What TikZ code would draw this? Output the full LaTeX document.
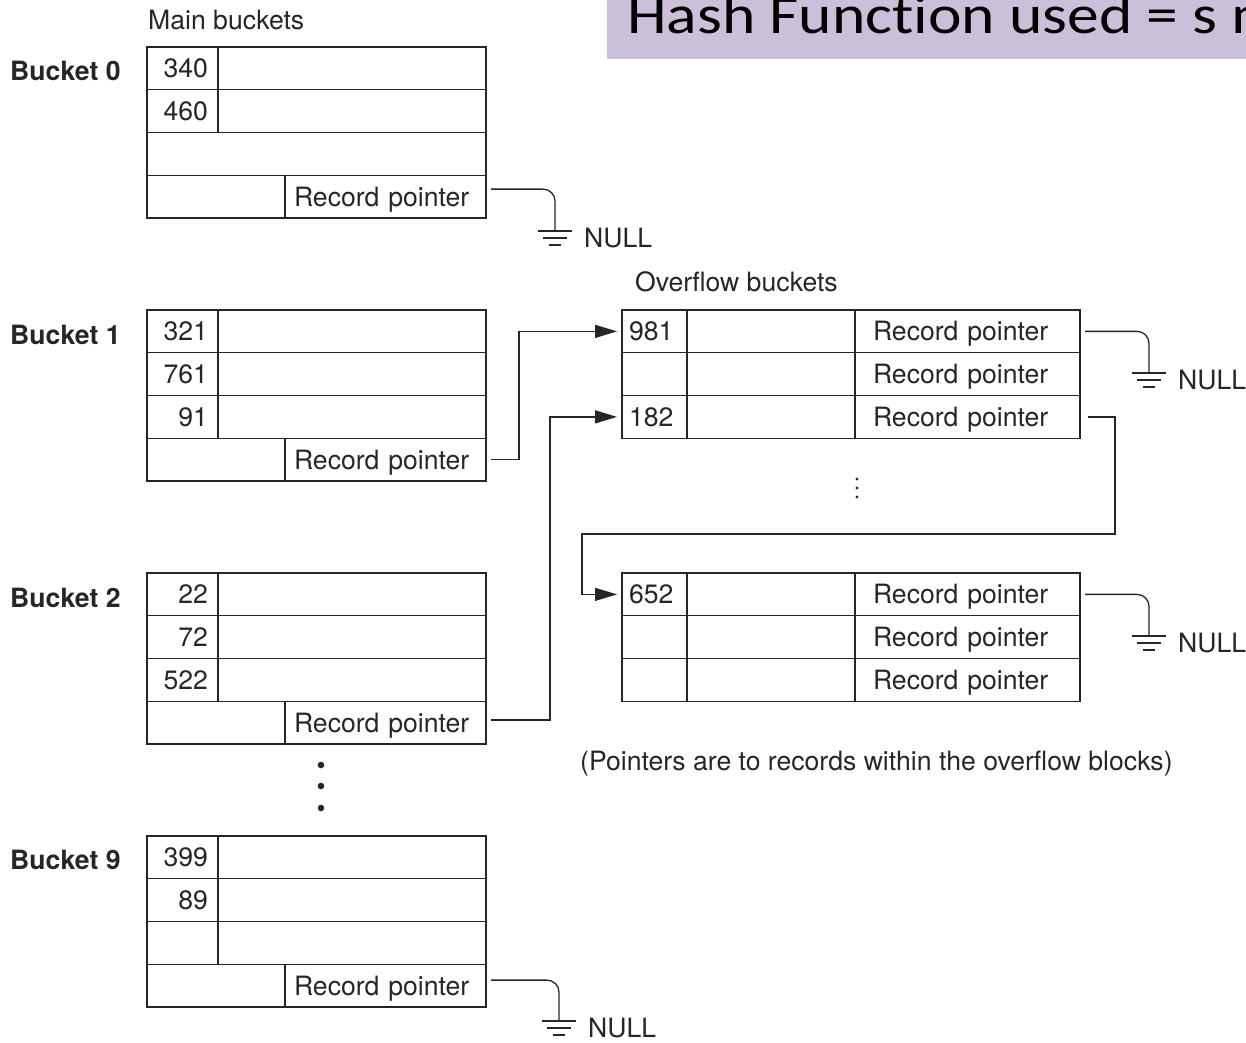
\documentclass[tikz,border=0pt]{standalone}
\usepackage{fontspec}
\setmainfont{TeX Gyre Heros}
\newfontfamily\bannerfont[Ligatures=NoCommon]{Carlito}
\usetikzlibrary{arrows.meta}
\definecolor{banner}{RGB}{203,192,218}
\definecolor{ink}{RGB}{38,38,38}

% one key row of a main bucket: name prefix, top edge, key
\newcommand\mbkeyrow[3]{%
  \node[keyR] (#1k) at (147,#2) {#3};
  \node[blank=268pt] (#1v) at (218,#2) {};
}
% last row of a main bucket, holding the overflow pointer
\newcommand\mbptrrow[2]{%
  \node[blank=138pt] (#1l) at (147,#2) {};
  \node[ptrM] (#1p) at (285,#2) {Record pointer};
}
% one row of an overflow bucket
\newcommand\ofrow[3]{%
  \node[okey] (#1k) at (622,#2) {#3};
  \node[blank=168pt] (#1v) at (687,#2) {};
  \node[optr] (#1p) at (855,#2) {Record pointer};
}
% ground symbol standing for a NULL pointer
\newcommand\earth[2]{%
  \draw[link] ([xshift=-17pt]#1) -- ++(34,0)
              ([xshift=-12pt,yshift=-7pt]#1) -- ++(24,0)
              ([xshift=-6pt,yshift=-14pt]#1) -- ++(12,0);
  \node[lbl] (#2) at ([xshift=29pt,yshift=-16pt]#1) {NULL};
}

\begin{document}
\begin{tikzpicture}[x=1pt,y=-1pt,
  font=\fontsize{26.6}{30}\selectfont,
  cell/.style={draw=ink, line width=1.3pt, anchor=north west, inner ysep=0pt,
    outer sep=0pt, minimum height=42.75pt, text height=19pt, text depth=0pt, text=ink},
  blank/.style={cell, inner xsep=0pt, minimum width=#1},
  keyR/.style={cell, inner xsep=10pt, text width=51pt, align=right},
  ptrM/.style={cell, inner xsep=9pt, text width=183pt, align=left},
  okey/.style={cell, inner xsep=7pt, text width=51pt, align=left},
  optr/.style={cell, inner xsep=18pt, text width=189pt, align=left},
  link/.style={draw=ink, line width=1.3pt},
  arr/.style={link, -{Triangle[length=22pt,width=13pt]}},
  nullend/.style={link, rounded corners=12pt},
  lbl/.style={anchor=base west, inner sep=0pt, text=ink},
  bucketlbl/.style={lbl, font=\fontsize{26.6}{30}\selectfont\bfseries}]

\useasboundingbox (0,0) rectangle (1246,1042);

% title banner, its text running past the right edge
\fill[banner] (607,0) rectangle (1246,59);
\begin{scope}
  \clip (607,0) rectangle (1246,59);
  \node[anchor=base west, inner sep=0pt, text=black,
        font=\bannerfont\fontsize{63.5}{66}\selectfont] (title) at (627,33)
        {\scalebox{1}[0.86]{Hash Function used = s m}};
\end{scope}

% main buckets
\node[lbl] (mainlbl) at (148,29) {Main buckets};

\node[bucketlbl] (lb0) at (10,80) {Bucket 0};
\mbkeyrow{b0r0}{47}{340}
\mbkeyrow{b0r1}{89.75}{460}
\node[blank=339pt] (b0r2) at (147,132.5) {};
\mbptrrow{b0}{175.25}

\node[bucketlbl] (lb1) at (10,344) {Bucket 1};
\mbkeyrow{b1r0}{310}{321}
\mbkeyrow{b1r1}{352.75}{761}
\mbkeyrow{b1r2}{395.5}{91}
\mbptrrow{b1}{438.25}

\node[bucketlbl] (lb2) at (10,607) {Bucket 2};
\mbkeyrow{b2r0}{573}{22}
\mbkeyrow{b2r1}{615.75}{72}
\mbkeyrow{b2r2}{658.5}{522}
\mbptrrow{b2}{701.25}

\fill[ink] (321,765) circle (3.3pt) (321,786) circle (3.3pt) (321,808) circle (3.3pt);

\node[bucketlbl] (lb9) at (10,869) {Bucket 9};
\mbkeyrow{b9r0}{836}{399}
\mbkeyrow{b9r1}{878.75}{89}
\mbkeyrow{b9r2}{921.5}{}
\mbptrrow{b9}{964.25}

% overflow buckets
\node[lbl] (oflbl) at (635,291) {Overflow buckets};
\ofrow{o1r0}{310}{981}
\ofrow{o1r1}{352.75}{}
\ofrow{o1r2}{395.5}{182}

\fill[ink] (857,479) circle (1.7pt) (857,488) circle (1.7pt) (857,497) circle (1.7pt);

\ofrow{o2r0}{573}{652}
\ofrow{o2r1}{615.75}{}
\ofrow{o2r2}{658.5}{}

\node[lbl] (note) at (580,770) {(Pointers are to records within the overflow blocks)};

% NULL ends
\coordinate (g0) at (555,231);
\coordinate (g9) at (559,1021);
\coordinate (go1) at (1149,373);
\coordinate (go2) at (1149,636);
\draw[nullend] ([xshift=5pt,yshift=7.5pt]b0p.east) -| (g0);
\draw[nullend] ([xshift=5pt,yshift=5.5pt]b9p.east) -| (g9);
\draw[nullend] ([xshift=5pt]o1r0p.east) -| (go1);
\draw[nullend] ([xshift=5pt]o2r0p.east) -| (go2);
\earth{g0}{null0}
\earth{g9}{null9}
\earth{go1}{nullo1}
\earth{go2}{nullo2}

% pointers into the overflow area
\draw[arr] ([xshift=5pt]b1p.east) -- ++(28,0) |- ([xshift=-5pt]o1r0k.west);
\draw[arr] ([xshift=5pt,yshift=2.5pt]b2p.east) -- ++(59,0) |- ([xshift=-5pt]o1r2k.west);
\coordinate (chain) at (582,534);
\draw[arr] ([xshift=8pt]o1r2p.east) -- ++(27,0) |- (chain) |- ([xshift=-5pt]o2r0k.west);

\end{tikzpicture}
\end{document}
